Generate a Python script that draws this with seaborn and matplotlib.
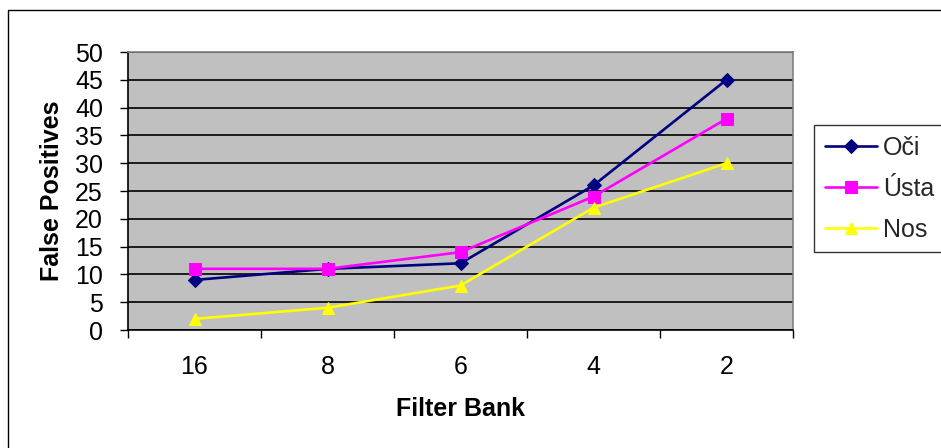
import matplotlib
matplotlib.use("Agg")
import matplotlib.pyplot as plt
import matplotlib.patches as mpatches
from matplotlib.ticker import FixedLocator, NullFormatter
import seaborn as sns
import pandas as pd

categories = ["16", "8", "6", "4", "2"]
oci = [9, 11, 12, 26, 45]
usta = [11, 11, 14, 24, 38]
nos = [2, 4, 8, 22, 30]
series_names = ["Oči", "Ústa", "Nos"]
y_ticks = [0, 5, 10, 15, 20, 25, 30, 35, 40, 45, 50]

rows = []
for name, vals in zip(series_names, [oci, usta, nos]):
    for i, (c, v) in enumerate(zip(categories, vals)):
        rows.append({"pos": i, "Filter Bank": c, "False Positives": v, "series": name})
df = pd.DataFrame(rows)

sns.set_theme(style="white")
plt.rcParams["font.family"] = ["Liberation Sans", "DejaVu Sans"]

fig = plt.figure(figsize=(9.41, 4.48), dpi=100)
fig.patch.set_facecolor("white")
ax = fig.add_axes([128/941, 1-330/448, (793-128)/941, (330-52)/448])
ax.set_facecolor("#C0C0C0")

colors = {"Oči": "#000080", "Ústa": "#FF00FF", "Nos": "#FFFF00"}
markers = {"Oči": "D", "Ústa": "s", "Nos": "^"}
sizes = {"Oči": 7, "Ústa": 8.5, "Nos": 9}

for name in series_names:
    sub = df[df["series"] == name]
    sns.lineplot(data=sub, x="pos", y="False Positives", ax=ax, color=colors[name],
                 marker=markers[name], markersize=sizes[name], markeredgecolor=colors[name],
                 linewidth=1.9, label=name, zorder=3)

ax.set_xlim(-0.5, 4.5)
ax.set_ylim(0, 50)
ax.set_yticks(y_ticks)
ax.yaxis.grid(True, color="black", linewidth=1.2, zorder=1)
ax.set_axisbelow(True)

ax.xaxis.set_major_locator(FixedLocator([-0.5, 0.5, 1.5, 2.5, 3.5, 4.5]))
ax.xaxis.set_major_formatter(NullFormatter())
ax.xaxis.set_minor_locator(FixedLocator(list(range(len(categories)))))
ax.set_xticklabels(categories, minor=True)
ax.tick_params(axis="x", which="major", direction="out", length=6, width=1, color="black", bottom=True)
ax.tick_params(axis="x", which="minor", length=0, pad=18, labelsize=18, labelcolor="black")
ax.tick_params(axis="y", direction="out", length=6, width=1, color="black", left=True, labelsize=18,
               labelcolor="black", pad=12)

for s in ["left", "bottom"]:
    ax.spines[s].set_color("black")
    ax.spines[s].set_linewidth(1.2)
for s in ["top", "right"]:
    ax.spines[s].set_color("#808080")
    ax.spines[s].set_linewidth(1.2)

ax.set_xlabel("Filter Bank", fontsize=18, fontweight="bold", labelpad=13, color="black")
ax.set_ylabel("False Positives", fontsize=18, fontweight="bold", labelpad=8, color="black")

leg = ax.legend(loc="upper left", bbox_to_anchor=(814/941, 1-125/448), bbox_transform=fig.transFigure,
                frameon=True, fancybox=False, edgecolor="black", fontsize=18, handlelength=2.1,
                handletextpad=0.25, borderpad=0.42, labelspacing=0.68, borderaxespad=0)
leg.get_frame().set_linewidth(1.0)

fig.patches.append(mpatches.Rectangle((8/941, -0.1), 1.0, 1.1 - 10/448, transform=fig.transFigure,
                                      fill=False, edgecolor="black", linewidth=1.0, figure=fig))

fig.savefig("out.png", dpi=100, facecolor="white")
